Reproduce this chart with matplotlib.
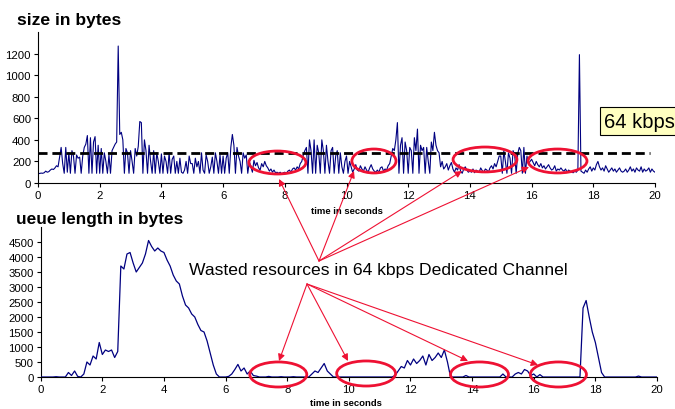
import numpy as np
import matplotlib
matplotlib.use('Agg')
import matplotlib.pyplot as plt
from matplotlib.patches import Ellipse, FancyArrowPatch

plt.rcParams['font.family'] = ['Liberation Sans', 'DejaVu Sans']
plt.rcParams['lines.scale_dashes'] = False

# packet size in bytes, one sample every 50 ms (one row = one second)
packet_size = [
    90, 88, 92, 90, 95, 110, 100, 105, 120, 130, 125, 140, 160, 150, 240, 330, 180, 90, 330, 100,
    280, 90, 300, 250, 90, 260, 230, 240, 90, 250, 330, 360, 440, 90, 420, 90, 380, 430, 90, 350,
    90, 320, 90, 280, 200, 90, 260, 90, 300, 330, 360, 380, 1270, 450, 470, 400, 90, 320, 280, 90,
    300, 200, 90, 320, 250, 340, 570, 560, 90, 400, 300, 90, 350, 200, 90, 300, 90, 280, 200, 90,
    270, 90, 250, 200, 90, 280, 90, 220, 250, 90, 200, 90, 230, 100, 90, 120, 200, 90, 250, 180,
    180, 90, 230, 150, 200, 90, 280, 120, 90, 260, 200, 90, 150, 240, 90, 280, 200, 90, 260, 90,
    250, 90, 230, 280, 90, 330, 450, 350, 90, 330, 250, 200, 90, 280, 230, 260, 90, 200, 150, 100,
    210, 160, 190, 140, 120, 180, 150, 200, 160, 140, 110, 130, 100, 120, 95, 100, 90, 100, 85, 95,
    100, 90, 110, 120, 100, 130, 140, 120, 150, 130, 180, 200, 260, 300, 330, 90, 400, 300, 90, 400,
    90, 350, 280, 90, 400, 300, 90, 350, 200, 90, 300, 330, 90, 250, 300, 90, 280, 150, 90, 200,
    250, 90, 200, 150, 100, 130, 170, 120, 110, 160, 130, 110, 150, 120, 100, 140, 170, 130, 110, 100,
    120, 100, 140, 150, 110, 130, 120, 160, 180, 250, 320, 300, 400, 560, 90, 350, 420, 90, 380, 300,
    90, 330, 300, 90, 420, 300, 500, 90, 350, 300, 330, 90, 330, 200, 90, 380, 300, 470, 350, 300,
    280, 150, 200, 130, 150, 180, 120, 160, 190, 130, 100, 140, 120, 170, 110, 90, 130, 150, 120, 100,
    110, 100, 130, 95, 120, 110, 100, 140, 115, 100, 130, 120, 100, 140, 160, 130, 180, 150, 200, 250,
    250, 90, 300, 200, 90, 280, 230, 90, 300, 260, 90, 270, 330, 300, 90, 330, 90, 250, 180, 200,
    220, 190, 160, 200, 170, 150, 180, 140, 160, 130, 150, 170, 140, 120, 130, 160, 110, 130, 120, 140,
    120, 110, 130, 100, 120, 110, 100, 95, 110, 100, 120, 1190, 110, 100, 90, 120, 100, 130, 150, 110,
    140, 120, 170, 200, 150, 120, 140, 110, 160, 130, 100, 120, 140, 110, 130, 100, 120, 140, 110, 100,
    110, 130, 100, 120, 150, 110, 130, 100, 140, 120, 110, 150, 100, 130, 110, 120, 140, 100, 130, 110,
    100,
]
t_size = np.linspace(0, 20, len(packet_size))

# queue length in bytes, one sample every 100 ms
queue_len = [
    0, 0, 0, 0, 0, 10, 0, 0, 0, 150,
    50, 200, 20, 0, 100, 500, 400, 700, 600, 1150,
    750, 900, 850, 900, 650, 850, 3700, 3600, 4100, 4150,
    3800, 3500, 3650, 3800, 4100, 4550, 4350, 4200, 4300, 4200,
    4150, 3900, 3700, 3400, 3200, 3100, 2700, 2400, 2300, 2100,
    2000, 1750, 1550, 1500, 1200, 800, 400, 100, 0, 0,
    0, 20, 100, 250, 420, 200, 300, 100, 200, 50,
    30, 0, 0, 0, 20, 0, 0, 0, 10, 0,
    0, 0, 10, 0, 0, 0, 0, 0, 100, 200,
    150, 300, 450, 200, 100, 0, 0, 0, 0, 0,
    0, 0, 0, 0, 0, 0, 0, 0, 0, 0,
    0, 0, 0, 0, 0, 50, 200, 350, 300, 550,
    400, 600, 450, 550, 700, 400, 750, 550, 650, 800,
    650, 900, 500, 0, 0, 0, 0, 0, 50, 0,
    0, 0, 0, 0, 0, 0, 0, 0, 0, 0,
    100, 0, 0, 0, 100, 150, 100, 250, 200, 50,
    100, 0, 80, 0, 0, 0, 0, 0, 0, 0,
    0, 0, 0, 0, 0, 0, 2300, 2550, 2000, 1500,
    1150, 650, 150, 0, 0, 0, 0, 0, 0, 0,
    0, 0, 0, 0, 30, 0, 0, 0, 0, 0,
    0,
]
t_queue = np.linspace(0, 20, len(queue_len))

rate_64k = 280
x_ticks = list(range(0, 21, 2))
size_ticks = list(range(0, 1201, 200))
queue_ticks = list(range(0, 4501, 500))

# wasted-resource regions: (centre x, centre y, width, height) in data units
size_regions = [(7.76, 190, 1.85, 213), (10.89, 204, 1.43, 222),
                (14.49, 218, 2.07, 231), (16.84, 204, 1.91, 222)]
queue_regions = [(7.71, 84, 1.85, 835), (10.56, 117, 1.91, 835),
                 (14.24, 84, 1.88, 835), (16.80, 84, 1.82, 835)]

W, H = 675, 410
NAVY = '#000080'
RED = '#EE1133'

fig = plt.figure(figsize=(W / 100, H / 100), dpi=100)
ax1 = fig.add_axes([38 / W, 1 - 184 / H, 617 / W, 151 / H])
ax2 = fig.add_axes([40.7 / W, 1 - 378 / H, 616.3 / W, 150 / H])


def style(ax, yticks, ymax):
    ax.set_xlim(0, 20)
    ax.set_ylim(0, ymax)
    ax.set_xticks(x_ticks)
    ax.set_yticks(yticks)
    for s in ['top', 'right']:
        ax.spines[s].set_visible(False)
    for s in ['left', 'bottom']:
        ax.spines[s].set_linewidth(0.8)
    ax.tick_params(direction='out', length=3, width=0.8, labelsize=8.2, pad=2)
    ax.patch.set_alpha(0)


ax1.plot(t_size, packet_size, color=NAVY, lw=0.8)
ax1.plot([0, 19.85], [rate_64k, rate_64k], color='black', lw=2, dashes=(6.5, 3.5))
style(ax1, size_ticks, 1400)

ax2.plot(t_queue, queue_len, color=NAVY, lw=0.9, zorder=3)
style(ax2, queue_ticks, 5000)

for ax, regions in [(ax1, size_regions), (ax2, queue_regions)]:
    for cx, cy, w, h in regions:
        ax.add_patch(Ellipse((cx, cy), w, h, fill=False, edgecolor=RED,
                             lw=2, clip_on=False, zorder=5))

fig.text(17 / W, 1 - 20 / H, 'size in bytes', fontsize=12.6, fontweight='bold', va='center')
fig.text(16 / W, 1 - 220 / H, 'ueue length in bytes', fontsize=12.4, fontweight='bold', va='center')
fig.text(347 / W, 1 - 212 / H, 'time in seconds', fontsize=6.8, fontweight='bold', ha='center', va='center')
fig.text(346 / W, 1 - 404 / H, 'time in seconds', fontsize=6.8, fontweight='bold', ha='center', va='center')
fig.text(189 / W, 1 - 271 / H, 'Wasted resources in 64 kbps Dedicated Channel', fontsize=12.6, va='center')
fig.text(604 / W, 1 - 122 / H, '64 kbps', fontsize=14.5, va='center',
         bbox=dict(boxstyle='square,pad=0.22', facecolor='#FFFFC0', edgecolor='black', lw=0.8))

# arrows from the label to the circled regions (figure pixels, y from top)
arrows = [((319, 262), (279, 180)), ((319, 262), (354, 172)),
          ((319, 262), (462, 172)), ((319, 262), (529, 168)),
          ((307, 285), (279, 362)), ((307, 285), (348, 362)),
          ((307, 285), (468, 362)), ((307, 285), (538, 366))]
for (x0, y0), (x1, y1) in arrows:
    fig.add_artist(FancyArrowPatch(
        (x0 / W, 1 - y0 / H), (x1 / W, 1 - y1 / H), transform=fig.transFigure,
        arrowstyle='-|>', mutation_scale=10, color=RED, lw=0.8, shrinkA=0, shrinkB=0, zorder=6))

fig.savefig('out.png', dpi=100)
